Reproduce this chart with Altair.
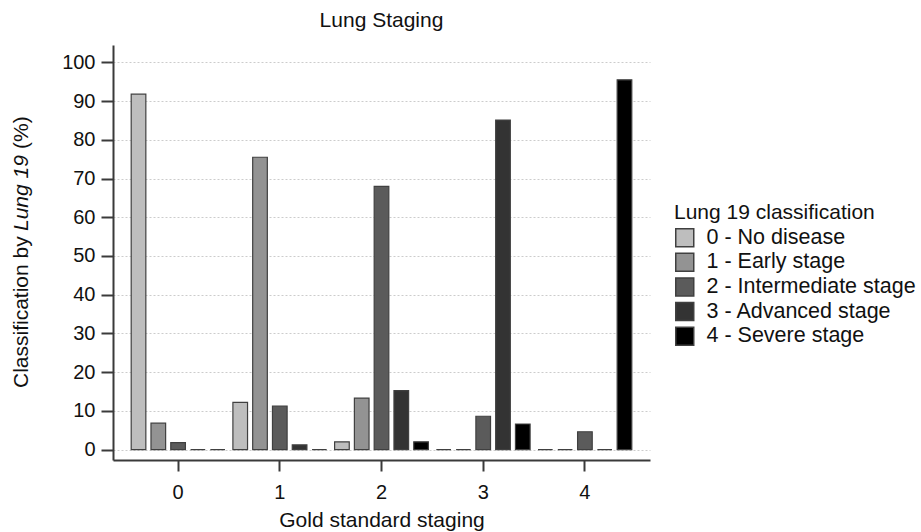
import altair as alt
import pandas as pd

gold = ["0", "1", "2", "3", "4"]
classes = ["0 - No disease", "1 - Early stage", "2 - Intermediate stage",
           "3 - Advanced stage", "4 - Severe stage"]
colors = ["#bebebe", "#939393", "#5b5b5b", "#333333", "#000000"]

# percentage of each Lung 19 class within each gold-standard stage
g0 = [91.8, 6.8, 1.8, 0.0, 0.0]
g1 = [12.2, 75.5, 11.2, 1.2, 0.0]
g2 = [2.0, 13.3, 68.0, 15.2, 2.0]
g3 = [0.0, 0.0, 8.6, 85.1, 6.6]
g4 = [0.0, 0.0, 4.6, 0.0, 95.5]
series = [g0, g1, g2, g3, g4]
yticks = [0, 10, 20, 30, 40, 50, 60, 70, 80, 90, 100]

rows = []
for g, vs in zip(gold, series):
    for c, v in zip(classes, vs):
        rows.append({"gold": g, "cls": c, "pct": v})
df = pd.DataFrame(rows)

FONT = "Liberation Sans"
TXT = "#111111"
AX = "#3a3a3a"
W, H = 537, 415

bars = alt.Chart(df).mark_bar(stroke="#404040", strokeWidth=1.2).encode(
    x=alt.X("gold:N", sort=gold, title="Gold standard staging",
            scale=alt.Scale(paddingInner=0, paddingOuter=0.14),
            axis=alt.Axis(labelAngle=0, grid=False, domainColor=AX, domainWidth=2,
                          tickColor=AX, tickWidth=2, tickSize=11,
                          labelFontSize=20, labelPadding=11, labelColor=TXT, labelFont=FONT,
                          titleFontSize=21, titleFontWeight="normal", titleColor=TXT,
                          titleFont=FONT, titlePadding=7)),
    xOffset=alt.XOffset("cls:N", sort=classes,
                        scale=alt.Scale(paddingInner=0.26, paddingOuter=0.2)),
    y=alt.Y("pct:Q",
            scale=alt.Scale(domain=[-2.7, 104.5], nice=False, zero=False),
            axis=alt.Axis(values=yticks, title=None, grid=True, gridColor="#cccccc",
                          gridDash=[2, 2], gridWidth=1, domainColor=AX, domainWidth=2,
                          tickColor=AX, tickWidth=2, tickSize=12,
                          labelFontSize=20, labelPadding=6, labelColor=TXT, labelFont=FONT)),
    y2=alt.datum(0),
    color=alt.Color("cls:N", sort=classes,
                    scale=alt.Scale(domain=classes, range=colors),
                    legend=alt.Legend(title="Lung 19 classification", orient="none",
                                      legendX=561, legendY=157,
                                      titleFontSize=21, titleFontWeight="normal",
                                      titleColor=TXT, titleFont=FONT, titlePadding=4,
                                      titleLimit=400, labelLimit=400,
                                      labelFontSize=21.5, labelColor=TXT, labelFont=FONT,
                                      labelOffset=11, rowPadding=-0.4,
                                      symbolType="square", symbolSize=324,
                                      symbolStrokeColor="#404040", symbolStrokeWidth=1.5,
                                      symbolOpacity=1)),
)

one = pd.DataFrame({"k": [0]})
t1 = alt.Chart(one).mark_text(text="Classification by", angle=270, align="left",
                              baseline="middle", fontSize=21, font=FONT, color=TXT
                              ).encode(x=alt.value(-91), y=alt.value(343))
t2 = alt.Chart(one).mark_text(text="Lung 19", angle=270, align="left",
                              baseline="middle", fontSize=21, font=FONT, color=TXT,
                              fontStyle="italic"
                              ).encode(x=alt.value(-91), y=alt.value(186))
t3 = alt.Chart(one).mark_text(text="(%)", angle=270, align="left",
                              baseline="middle", fontSize=21, font=FONT, color=TXT
                              ).encode(x=alt.value(-91), y=alt.value(104))

chart = alt.layer(bars, t1, t2, t3).properties(
    width=W, height=H,
    title=alt.Title("Lung Staging", fontSize=21, fontWeight="normal", anchor="middle",
                    offset=14, color=TXT, font=FONT),
    autosize=alt.AutoSizeParams(type="none"),
    padding={"left": 113, "top": 45, "right": 921 - 113 - W, "bottom": 532 - 45 - H},
).configure_view(stroke=None)

chart.save("out.html", embed_options={"renderer": "svg", "actions": False})
